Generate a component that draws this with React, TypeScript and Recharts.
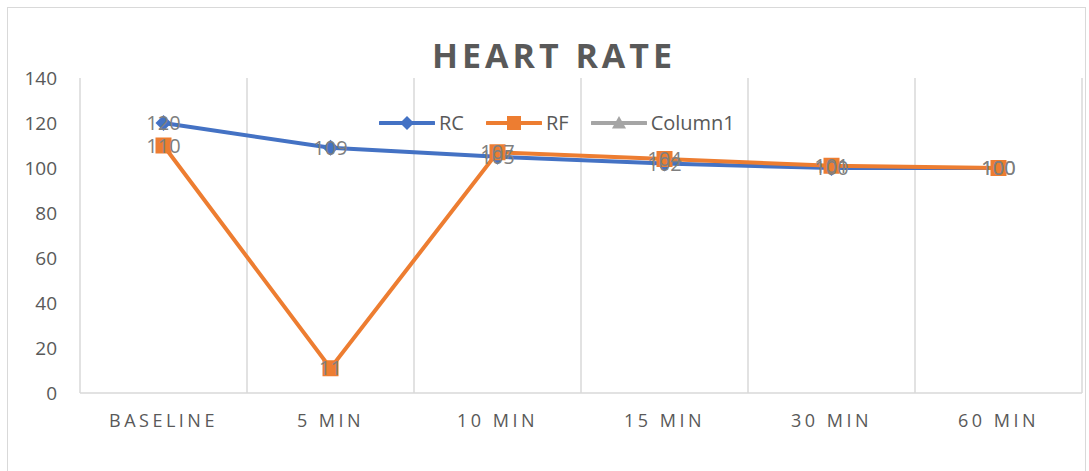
import { LineChart, Line, XAxis, YAxis, CartesianGrid, Legend } from "recharts";

const categories = ["BASELINE", "5 MIN", "10 MIN", "15 MIN", "30 MIN", "60 MIN"];
const rcValues = [120, 109, 105, 102, 100, 100];
const rfValues = [110, 11, 107, 104, 101, 100];
const column1Values: (number | null)[] = [null, null, null, null, null, null];
const yTicks = [0, 20, 40, 60, 80, 100, 120, 140];
const legendOrder = ["rc", "rf", "col1"];

const data = categories.map((name, i) => ({
  name,
  rc: rcValues[i],
  rf: rfValues[i],
  col1: column1Values[i],
}));

const FONT = "'Open Sans', sans-serif";
const BLUE = "#4472C4";
const ORANGE = "#ED7D31";
const GRAY = "#A5A5A5";

const Diamond = ({ cx, cy, fill, r = 8 }: any) => (
  <path d={`M${cx},${cy - r} L${cx + r},${cy} L${cx},${cy + r} L${cx - r},${cy} Z`} fill={fill} />
);

const Square = ({ cx, cy, fill, r = 8 }: any) => (
  <rect x={cx - r} y={cy - r} width={r * 2} height={r * 2} fill={fill} />
);

const Triangle = ({ cx, cy, fill, r = 7 }: any) => (
  <path d={`M${cx},${cy - r} L${cx + r},${cy + r * 0.8} L${cx - r},${cy + r * 0.8} Z`} fill={fill} />
);

const renderLabel = (props: any) => {
  const { x, y, value, index } = props;
  if (value == null) return null;
  return (
    <text
      key={index}
      x={x}
      y={y}
      dy="0.36em"
      textAnchor="middle"
      fontSize={20}
      fontFamily={FONT}
      fill="#7F7F7F"
    >
      {value}
    </text>
  );
};

const markerFor = (key: string, color: string) => {
  if (key === "rc") return <Diamond cx={28} cy={12} r={7} fill={color} />;
  if (key === "rf") return <Square cx={28} cy={12} r={7} fill={color} />;
  return <Triangle cx={28} cy={12} r={7} fill={color} />;
};

const LegendContent = ({ payload }: any) => {
  const items = [...(payload || [])].sort(
    (a: any, b: any) => legendOrder.indexOf(a.dataKey) - legendOrder.indexOf(b.dataKey)
  );
  return (
    <div style={{ display: "flex", alignItems: "center", fontFamily: FONT, fontSize: 20, color: "#595959" }}>
      {items.map((entry: any) => (
        <div key={entry.value} style={{ display: "flex", alignItems: "center", marginRight: 22 }}>
          <svg width={56} height={24}>
            <line x1={1} y1={12} x2={55} y2={12} stroke={entry.color} strokeWidth={4} strokeLinecap="round" />
            {markerFor(entry.dataKey, entry.color)}
          </svg>
          <span style={{ marginLeft: 4, lineHeight: "24px" }}>{entry.value}</span>
        </div>
      ))}
    </div>
  );
};

// vertical gridlines sit on the category band edges, not on the band centres
const bandBoundaries = ({ offset }: any) => {
  const n = categories.length;
  return Array.from({ length: n + 1 }, (_, i) => offset.left + (offset.width * i) / n);
};

export default function App() {
  return (
    <div style={{ position: "absolute", left: 0, top: 0, width: 1089, height: 471, background: "#fff" }}>
      <div
        style={{
          position: "absolute",
          left: 7,
          top: 7,
          width: 1079,
          height: 470,
          border: "1px solid #D9D9D9",
          boxSizing: "border-box",
        }}
      />
      <div
        style={{
          position: "absolute",
          left: 354,
          top: 38,
          width: 400,
          textAlign: "center",
          fontFamily: FONT,
          fontWeight: 700,
          fontSize: 34,
          lineHeight: "34px",
          letterSpacing: 4,
          color: "#595959",
        }}
      >
        HEART RATE
      </div>
      <div style={{ position: "absolute", left: 0, top: 0 }}>
        <LineChart width={1089} height={471} data={data} margin={{ top: 78, right: 7, bottom: 38, left: 0 }}>
          <CartesianGrid
            horizontal={false}
            stroke="#D9D9D9"
            strokeWidth={1.5}
            verticalCoordinatesGenerator={bandBoundaries}
          />
          <XAxis
            dataKey="name"
            scale="band"
            height={40}
            axisLine={{ stroke: "#D9D9D9", strokeWidth: 1.5 }}
            tickLine={false}
            tickSize={0}
            tickMargin={21}
            interval={0}
            tick={{ fontSize: 18, fontFamily: FONT, fill: "#595959", letterSpacing: 3.5 }}
          />
          <YAxis
            width={80}
            domain={[0, 140]}
            ticks={yTicks}
            axisLine={false}
            tickLine={false}
            tickSize={0}
            tickMargin={23}
            tick={{ fontSize: 19, fontFamily: FONT, fill: "#595959" }}
          />
          <Legend
            layout="horizontal"
            verticalAlign="middle"
            align="center"
            wrapperStyle={{ left: 379, top: 111, width: "auto" }}
            content={<LegendContent />}
          />
          <Line
            dataKey="rc"
            name="RC"
            type="linear"
            stroke={BLUE}
            strokeWidth={4}
            dot={(p: any) => <Diamond key={p.index} cx={p.cx} cy={p.cy} r={8} fill={BLUE} />}
            activeDot={false}
            label={renderLabel}
            isAnimationActive={false}
          />
          <Line
            dataKey="rf"
            name="RF"
            type="linear"
            stroke={ORANGE}
            strokeWidth={4}
            dot={(p: any) => <Square key={p.index} cx={p.cx} cy={p.cy} r={8} fill={ORANGE} />}
            activeDot={false}
            label={renderLabel}
            isAnimationActive={false}
          />
          <Line
            dataKey="col1"
            name="Column1"
            type="linear"
            stroke={GRAY}
            strokeWidth={4}
            dot={false}
            activeDot={false}
            isAnimationActive={false}
          />
        </LineChart>
      </div>
    </div>
  );
}
